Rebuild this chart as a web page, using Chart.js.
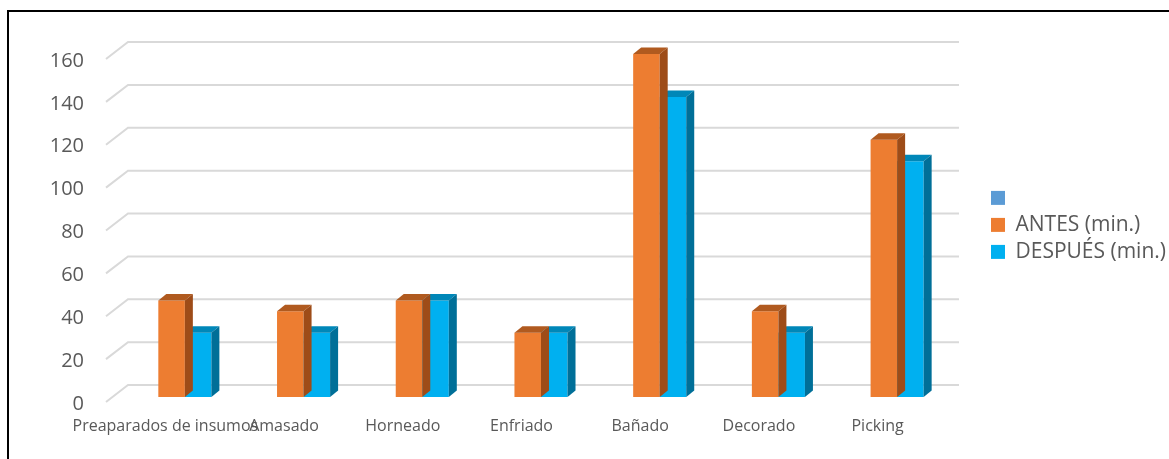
<!DOCTYPE html>
<html>
<head>
<meta charset="utf-8">
<script src="https://cdn.jsdelivr.net/npm/chart.js@4.4.1/dist/chart.umd.min.js"></script>
<style>
  html, body { margin: 0; padding: 0; background: #fff; }
  #wrap { position: relative; width: 1169px; height: 459px; overflow: hidden; }
  #myChart { display: block; }
  /* black frame around the chart, runs off right and bottom edge */
  #frame { position: absolute; left: 7px; top: 10px; width: 1300px; height: 600px; border: 2px solid #000; pointer-events: none; }
</style>
</head>
<body>
<div id="wrap">
  <canvas id="myChart" width="1169" height="459"></canvas>
  <div id="frame"></div>
</div>
<script>
// data
const categories = ["Preaparados de insumos", "Amasado", "Horneado", "Enfriado", "Bañado", "Decorado", "Picking"];
const antes = [45, 40, 45, 30, 160, 40, 120];
const despues = [30, 30, 45, 30, 140, 30, 110];
const seriesNames = ["ANTES (min.)", "DESPUÉS (min.)"];
const yMin = 0;
const yMax = 160;
const yStep = 20;

// look
const textColor = "#595959";
const blankSeriesColor = "#5B9BD5";
const faceColors = {
  "#ED7D31": { top: "#B05A1F", side: "#9E4C18" },
  "#00B0F0": { top: "#0087B8", side: "#006F98" },
};
const barDepthX = 8, barDepthY = -6.5;     // depth of each bar
const floorX = 22, floorY = -17;           // depth of the grid "floor"
const barShiftX = 19.5, barShiftY = -5;    // bars sit a bit behind the front edge

Chart.defaults.font.family = "'Open Sans', sans-serif";

const box3d = {
  id: "box3d",
  beforeDatasetsDraw(chart) {
    const ctx = chart.ctx;
    const area = chart.chartArea;
    const y = chart.scales.y;
    // 3D grid: short diagonal at the front, then the line along the back wall
    ctx.save();
    ctx.strokeStyle = "#D9D9D9";
    ctx.lineWidth = 2;
    for (let v = yMin; v <= yMax; v += yStep) {
      const p = y.getPixelForValue(v);
      ctx.beginPath();
      ctx.moveTo(area.left, p);
      ctx.lineTo(area.left + floorX, p + floorY);
      ctx.lineTo(area.right + floorX, p + floorY);
      ctx.stroke();
    }
    ctx.restore();
    ctx.save();
    ctx.translate(barShiftX, barShiftY);
  },
  afterDatasetDraw(chart, args) {
    const ctx = chart.ctx;
    const ds = chart.data.datasets[args.index];
    const shade = faceColors[ds.backgroundColor];
    args.meta.data.forEach((bar) => {
      const w = bar.width;
      const l = bar.x - w / 2;
      const r = bar.x + w / 2;
      const t = bar.y;
      const b = bar.base;
      // top face
      ctx.fillStyle = shade.top;
      ctx.beginPath();
      ctx.moveTo(l, t);
      ctx.lineTo(l + barDepthX, t + barDepthY);
      ctx.lineTo(r + barDepthX, t + barDepthY);
      ctx.lineTo(r, t);
      ctx.closePath();
      ctx.fill();
      // right side
      ctx.fillStyle = shade.side;
      ctx.beginPath();
      ctx.moveTo(r, t);
      ctx.lineTo(r + barDepthX, t + barDepthY);
      ctx.lineTo(r + barDepthX, b + barDepthY);
      ctx.lineTo(r, b);
      ctx.closePath();
      ctx.fill();
    });
  },
  afterDatasetsDraw(chart) {
    chart.ctx.restore();
  },
};

const ctx = document.getElementById("myChart").getContext("2d");
const chart = new Chart(ctx, {
  type: "bar",
  data: {
    labels: categories,
    datasets: [
      { label: seriesNames[0], data: antes, backgroundColor: "#ED7D31" },
      { label: seriesNames[1], data: despues, backgroundColor: "#00B0F0" },
    ],
  },
  options: {
    responsive: false,
    animation: false,
    layout: { padding: { top: 59, left: 0, right: -7, bottom: 0 } },
    datasets: {
      bar: { categoryPercentage: 0.447, barPercentage: 1, clip: false, borderWidth: 0 },
    },
    scales: {
      x: {
        grid: { display: false, drawTicks: false },
        border: { display: false },
        ticks: {
          color: textColor,
          font: { size: 16 },
          maxRotation: 0,
          minRotation: 0,
          autoSkip: false,
          padding: 15,
        },
        afterFit(scale) { scale.height = 57; },
      },
      y: {
        min: yMin,
        max: yMax,
        grid: { display: false, drawTicks: false },
        border: { display: false },
        ticks: { stepSize: yStep, color: textColor, font: { size: 20 }, padding: 22, labelOffset: 2 },
        afterFit(scale) { scale.width = 106; },
      },
      // empty strip between the plot and the legend
      gap: {
        type: "linear",
        position: "right",
        display: true,
        grid: { display: false, drawTicks: false },
        border: { display: false },
        ticks: { display: false },
        afterFit(scale) { scale.width = 48; },
      },
    },
    plugins: {
      tooltip: { enabled: false },
      legend: {
        position: "right",
        align: "start",
        onClick: null,
        // empty title used as a spacer to push the items down
        title: { display: true, text: "", font: { size: 12, lineHeight: 1.2 }, padding: { top: 0, bottom: 108 } },
        labels: {
          boxWidth: 14,
          boxHeight: 14,
          padding: 6,
          color: textColor,
          font: { size: 21 },
          generateLabels(chart) {
            const items = Chart.defaults.plugins.legend.labels.generateLabels(chart);
            items.forEach((it) => { it.lineWidth = 0; });
            items.unshift({
              text: "",
              fillStyle: blankSeriesColor,
              strokeStyle: blankSeriesColor,
              lineWidth: 0,
              hidden: false,
              fontColor: textColor,
            });
            return items;
          },
        },
      },
    },
  },
  plugins: [box3d],
});
</script>
</body>
</html>
